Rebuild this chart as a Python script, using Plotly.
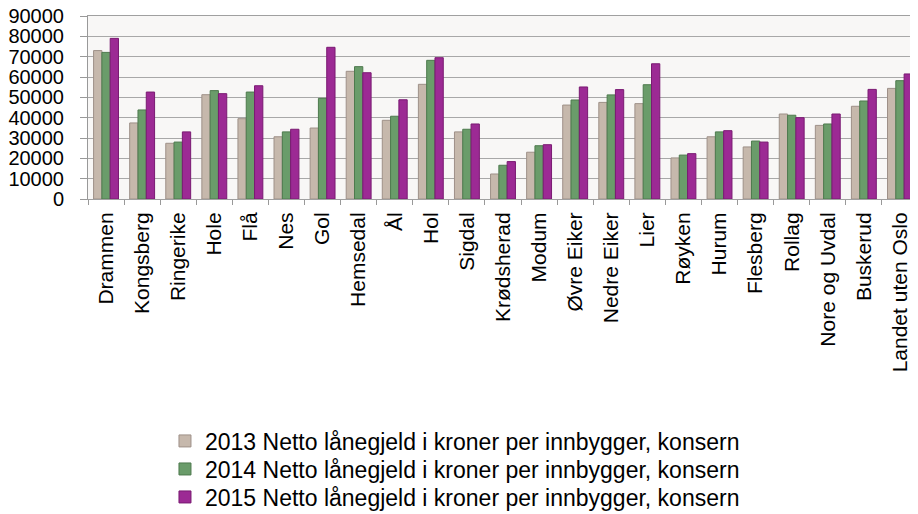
import plotly.graph_objects as go

categories = ["Drammen", "Kongsberg", "Ringerike", "Hole", "Flå", "Nes", "Gol", "Hemsedal", "Ål", "Hol",
              "Sigdal", "Krødsherad", "Modum", "Øvre Eiker", "Nedre Eiker", "Lier", "Røyken", "Hurum",
              "Flesberg", "Rollag", "Nore og Uvdal", "Buskerud", "Landet uten Oslo"]
v2013 = [73000, 37400, 27400, 51300, 39500, 30600, 34900, 62800, 38700, 56400, 33000, 12300, 23000,
         46200, 47500, 46900, 20200, 30600, 25600, 41800, 36200, 45600, 54400]
v2014 = [72100, 43800, 28000, 53300, 52600, 33000, 49500, 65100, 40700, 68200, 34300, 16600, 26200,
         48700, 51200, 56200, 21600, 33000, 28500, 41200, 36900, 48200, 58200]
v2015 = [79000, 52600, 33000, 51800, 55700, 34300, 74600, 62100, 48800, 69500, 36900, 18400, 26700,
         55100, 53800, 66500, 22300, 33600, 28000, 40000, 41800, 53900, 61500]
names = ["2013 Netto lånegjeld i kroner per innbygger, konsern",
         "2014 Netto lånegjeld i kroner per innbygger, konsern",
         "2015 Netto lånegjeld i kroner per innbygger, konsern"]
y_ticks = [0, 10000, 20000, 30000, 40000, 50000, 60000, 70000, 80000, 90000]

fills = ["#C6B8AC", "#6A9C6A", "#9C2A94"]
lines = ["#9E9088", "#4E7A4E", "#7A1A72"]
legend_ids = ["legend", "legend2", "legend3"]
legend_y = [0.1443, 0.0889, 0.0336]

fig = go.Figure()
for vals, nm, fc, lc, lg in zip([v2013, v2014, v2015], names, fills, lines, legend_ids):
    fig.add_trace(go.Bar(x=categories, y=vals, name=nm, legend=lg,
                         marker=dict(color=fc, line=dict(color=lc, width=1))))

legend_common = dict(orientation="v", yref="container", xref="container",
                     x=0.1725, xanchor="left", yanchor="middle",
                     font=dict(size=23), tracegroupgap=0, itemwidth=30,
                     bgcolor="rgba(0,0,0,0)")

fig.update_layout(
    width=910, height=506,
    margin=dict(l=80, r=0, t=8, b=315, autoexpand=False),
    barmode="group", bargap=0.31, bargroupgap=0,
    paper_bgcolor="white", plot_bgcolor="#F8F7F6",
    font=dict(family="Liberation Sans, Arial, sans-serif", color="black"),
    showlegend=True,
    legend=dict(y=legend_y[0], **legend_common),
    legend2=dict(y=legend_y[1], **legend_common),
    legend3=dict(y=legend_y[2], **legend_common),
)
fig.update_xaxes(type="category", tickangle=-90, tickfont=dict(size=21),
                 ticks="outside", tickson="boundaries", ticklen=5, tickcolor="#999999",
                 ticklabelstandoff=4, mirror=True,
                 showline=True, linecolor="#A0A0A0", showgrid=False, automargin=False,
                 range=[-0.5, 22.5])
fig.update_yaxes(range=[0, 90000], tickvals=y_ticks, ticktext=[str(t) for t in y_ticks],
                 tickfont=dict(size=20), ticks="outside", ticklen=7, tickcolor="#999999",
                 ticklabelstandoff=12, ticklabeloverflow="allow",
                 showline=True, linecolor="#999999", gridcolor="#A8A8A8", gridwidth=1.2,
                 zeroline=False, automargin=False)

fig.write_html("out.html")
